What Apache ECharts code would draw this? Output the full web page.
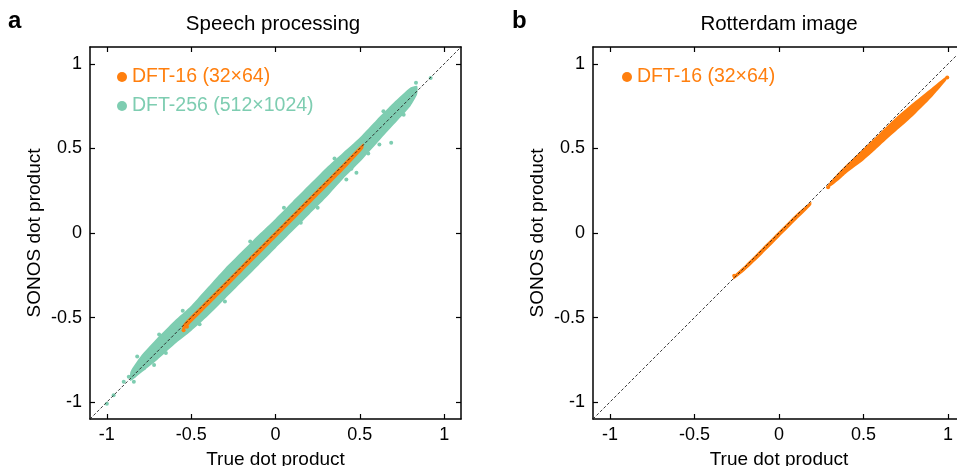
<!DOCTYPE html>
<html>
<head>
<meta charset="utf-8">
<script src="https://cdn.jsdelivr.net/npm/echarts@6/dist/echarts.min.js"></script>
<style>
  html, body { margin: 0; padding: 0; background: #fff; }
  #chart { width: 957px; height: 466px; }
</style>
</head>
<body>
<div id="chart"></div>
<script>
const ORANGE = "#ff7f0e";
const TEAL = "#7ecdb1";
const FONT = "Liberation Sans, Arial, sans-serif";

// tick values shared by every axis
const tickValues = [-1, -0.5, 0, 0.5, 1];

// panel a, DFT-256 cloud: upper / lower edge read at these x
const tealX  = [-0.86, -0.8, -0.7, -0.6, -0.5, -0.4, -0.3, -0.2, -0.1, 0, 0.1, 0.2, 0.3, 0.4, 0.5, 0.6, 0.7, 0.8, 0.84];
const tealUp = [-0.82, -0.73, -0.62, -0.52, -0.43, -0.32, -0.21, -0.11, -0.01, 0.085, 0.185, 0.285, 0.385, 0.475, 0.565, 0.67, 0.77, 0.86, 0.87];
const tealLo = [-0.875, -0.83, -0.75, -0.66, -0.58, -0.49, -0.39, -0.29, -0.19, -0.09, 0.01, 0.11, 0.21, 0.32, 0.42, 0.53, 0.64, 0.75, 0.82];
// scattered DFT-256 points outside the dense cloud
const tealPts = [
  [-1.0, -1.01], [-0.96, -0.96], [-0.9, -0.88], [-0.87, -0.85], [-0.84, -0.88],
  [-0.75, -0.755], [-0.78, -0.8], [-0.72, -0.78], [-0.65, -0.71], [-0.82, -0.73],
  [-0.69, -0.6], [-0.3, -0.405], [0.05, 0.15], [0.25, 0.15], [0.42, 0.317],
  [0.48, 0.357], [0.55, 0.47], [0.616, 0.524], [0.686, 0.534], [0.64, 0.72],
  [0.76, 0.7], [0.813, 0.848], [0.833, 0.888], [0.92, 0.917],
  [-0.55, -0.46], [-0.45, -0.54], [-0.15, -0.05], [0.15, 0.06], [0.35, 0.44], [0.45, 0.38]
];

// panel a, DFT-16 strip
const orgAX  = [-0.55, -0.5, -0.4, -0.2, 0, 0.2, 0.4, 0.52];
const orgAUp = [-0.545, -0.49, -0.39, -0.19, 0.01, 0.21, 0.41, 0.53];
const orgALo = [-0.58, -0.53, -0.43, -0.23, -0.03, 0.17, 0.37, 0.5];
const orgAPts = [[-0.545, -0.575], [-0.525, -0.555]];

// panel b, DFT-16: two separate strips
const orgB1X  = [-0.27, -0.2, -0.1, 0, 0.1, 0.19];
const orgB1Up = [-0.255, -0.19, -0.09, 0.01, 0.11, 0.185];
const orgB1Lo = [-0.275, -0.22, -0.125, -0.025, 0.075, 0.165];
const orgB2X  = [0.29, 0.35, 0.4, 0.5, 0.6, 0.7, 0.8, 0.9, 0.99];
const orgB2Up = [0.285, 0.355, 0.405, 0.5, 0.595, 0.69, 0.775, 0.855, 0.925];
const orgB2Lo = [0.265, 0.31, 0.355, 0.43, 0.52, 0.61, 0.7, 0.8, 0.905];
const orgBPts = [[0.995, 0.92], [0.29, 0.27], [-0.265, -0.253]];

const diag = [[-1.1, -1.1], [1.1, 1.1]];

function band(name, xs, up, lo, color, idx) {
  return {
    name: name,
    type: "custom",
    xAxisIndex: idx * 2,
    yAxisIndex: idx * 2,
    clip: true,
    z: 2,
    itemStyle: { color: color },
    data: xs.map((x, i) => [x, up[i], lo[i]]),
    encode: { x: 0, y: [1, 2] },
    renderItem: function (params, api) {
      if (params.dataIndex !== 0) return null;
      const pts = [];
      for (let i = 0; i < xs.length; i++) pts.push(api.coord([xs[i], up[i]]));
      for (let i = xs.length - 1; i >= 0; i--) pts.push(api.coord([xs[i], lo[i]]));
      return { type: "polygon", shape: { points: pts, smooth: 0.2 }, style: { fill: color } };
    }
  };
}

function dots(name, pts, color, idx) {
  return {
    name: name,
    type: "scatter",
    xAxisIndex: idx * 2,
    yAxisIndex: idx * 2,
    symbolSize: 4,
    z: 3,
    itemStyle: { color: color, opacity: 1 },
    data: pts
  };
}

function diagLine(idx) {
  return {
    name: "diag",
    type: "line",
    xAxisIndex: idx * 2,
    yAxisIndex: idx * 2,
    symbol: "none",
    silent: true,
    z: 5,
    lineStyle: { color: "#222", width: 0.9, type: [3, 2] },
    data: diag
  };
}

function axisPair(dim, idx) {
  const main = {
    type: "value",
    gridIndex: idx,
    min: -1.1,
    max: 1.1,
    position: dim === "x" ? "bottom" : "left",
    splitLine: { show: false },
    axisLine: { show: true, onZero: false, lineStyle: { color: "#000", width: 1.5 } },
    axisTick: { show: true, inside: true, length: 5, customValues: tickValues, lineStyle: { color: "#000", width: 1.2 } },
    axisLabel: {
      customValues: tickValues, color: "#000", fontSize: 18, fontFamily: FONT,
      margin: dim === "x" ? 7 : 8,
      formatter: v => String(v)
    },
    name: dim === "x" ? "True dot product" : "SONOS dot product",
    nameLocation: "middle",
    nameGap: dim === "x" ? 31 : 46,
    nameTextStyle: { color: "#000", fontSize: 19, fontFamily: FONT }
  };
  const other = {
    type: "value",
    gridIndex: idx,
    min: -1.1,
    max: 1.1,
    position: dim === "x" ? "top" : "right",
    splitLine: { show: false },
    axisLine: { show: true, onZero: false, lineStyle: { color: "#000", width: 1.5 } },
    axisTick: { show: true, inside: true, length: 5, customValues: tickValues, lineStyle: { color: "#000", width: 1.2 } },
    axisLabel: { show: false }
  };
  return [main, other];
}

const chart = echarts.init(document.getElementById("chart"), null, { renderer: "canvas" });

const legendText = { fontSize: 19.5, fontFamily: FONT };

chart.setOption({
  animation: false,
  backgroundColor: "#fff",
  grid: [
    { left: 90, top: 47, width: 371, height: 372, outerBoundsMode: "none" },
    { left: 593, top: 47, width: 372, height: 372, outerBoundsMode: "none" }
  ],
  xAxis: [...axisPair("x", 0), ...axisPair("x", 1)],
  yAxis: [...axisPair("y", 0), ...axisPair("y", 1)],
  legend: [
    {
      left: 112, top: 62, orient: "vertical", itemWidth: 10, itemHeight: 10, itemGap: 9,
      textStyle: legendText, selectedMode: false,
      data: [
        { name: "DFT-16 (32×64)", icon: "circle", textStyle: { color: ORANGE } },
        { name: "DFT-256 (512×1024)", icon: "circle", textStyle: { color: TEAL } }
      ]
    },
    {
      left: 617, top: 62, orient: "vertical", itemWidth: 10, itemHeight: 10,
      textStyle: legendText, selectedMode: false,
      data: [{ name: "DFT-16 (32×64)", icon: "circle", textStyle: { color: ORANGE } }]
    }
  ],
  graphic: [
    { type: "text", x: 8, y: 21, style: { text: "a", font: "bold 24px " + FONT, fill: "#000", verticalAlign: "middle" } },
    { type: "text", x: 512, y: 21, style: { text: "b", font: "bold 24px " + FONT, fill: "#000", verticalAlign: "middle" } },
    { type: "text", x: 273, y: 24, style: { text: "Speech processing", font: "20.5px " + FONT, fill: "#000", align: "center", verticalAlign: "middle" } },
    { type: "text", x: 779, y: 24, style: { text: "Rotterdam image", font: "20.5px " + FONT, fill: "#000", align: "center", verticalAlign: "middle" } }
  ],
  series: [
    band("DFT-256 (512×1024)", tealX, tealUp, tealLo, TEAL, 0),
    dots("DFT-256 (512×1024)", tealPts, TEAL, 0),
    band("DFT-16 (32×64)", orgAX, orgAUp, orgALo, ORANGE, 0),
    dots("DFT-16 (32×64)", orgAPts, ORANGE, 0),
    diagLine(0),
    band("DFT-16 (32×64)", orgB1X, orgB1Up, orgB1Lo, ORANGE, 1),
    band("DFT-16 (32×64)", orgB2X, orgB2Up, orgB2Lo, ORANGE, 1),
    dots("DFT-16 (32×64)", orgBPts, ORANGE, 1),
    diagLine(1)
  ]
});
</script>
</body>
</html>
